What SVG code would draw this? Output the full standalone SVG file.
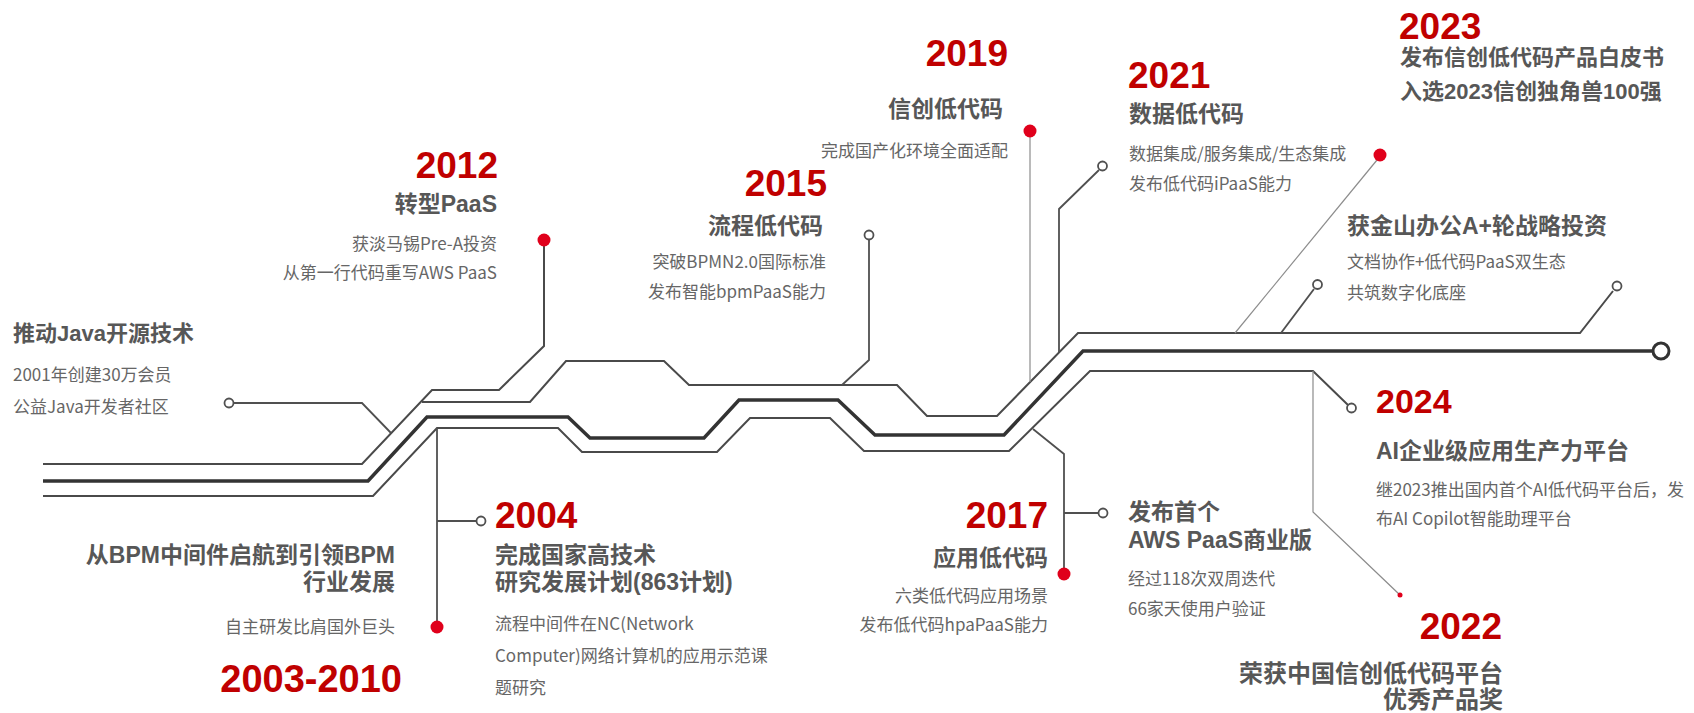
<svg xmlns="http://www.w3.org/2000/svg" width="1694" height="713" viewBox="0 0 1694 713">
<style>
text{font-family:"Noto Sans CJK SC","Liberation Sans",sans-serif}
.yr{font-family:"Liberation Sans","Noto Sans CJK SC",sans-serif;font-size:37px;font-weight:700;fill:#c00000}
.tt{font-family:"Liberation Sans","Noto Sans CJK SC",sans-serif;font-size:23px;font-weight:700;fill:#575757}
.bd{font-size:17px;fill:#666}
.r{text-anchor:end}
.trk{fill:none;stroke:#4a4a4a;stroke-width:2;stroke-linejoin:miter}
.main{fill:none;stroke:#333;stroke-width:3.5}
.con{fill:none;stroke:#505050;stroke-width:1.8}
.thin{fill:none;stroke:#8c8c8c;stroke-width:1.2}
.oc{fill:#fff;stroke:#505050;stroke-width:1.8}
.dot{fill:#e0001b}
</style>
<rect width="1694" height="713" fill="#fff"/>
<g id="connectors">
<path class="trk" d="M43,464 H362 L432,390 H499 L544,346 V240"/>
<path class="trk" d="M422,402 H530 L566,361 H664 L689,385 H897 L927,416 H997 L1078,333 H1580 L1613,291"/>
<path class="main" d="M43,481 H368 L427,417 H568 L590,438 H704 L739,400 H838 L875,435 H1004 L1083,351 H1653"/>
<path class="trk" d="M43,496 H373 L437,428 H558 L582,452 H717 L750,418 H830 L864,451 H1009 L1090,371 H1313 L1348,405"/>
<path class="con" d="M234,403 H362 L391,433"/>
<path class="con" d="M869,240 V360 L842,385"/>
<path class="con" d="M437,428 V621"/>
<path class="con" d="M437,521 H476"/>
<path class="thin" d="M1030,137 V382"/>
<path class="con" d="M1099,170 L1059,209 V352"/>
<path class="thin" d="M1377,160 L1235,333"/>
<path class="con" d="M1314,289 L1281,333"/>
<path class="thin" d="M1313,371 V512 L1400,595"/>
<path class="con" d="M1033,429 L1064,454 V568"/>
<path class="con" d="M1064,513 H1098"/>
<circle cx="1661" cy="351" r="8" fill="#fff" stroke="#333" stroke-width="3"/>
</g>
<g id="n-java">
<circle class="oc" cx="229" cy="403" r="4.5"/>
<text class="tt" x="13" y="341" style="font-size:22px">推动Java开源技术</text>
<text class="bd" x="13" y="381">2001年创建30万会员</text>
<text class="bd" x="13" y="413">公益Java开发者社区</text>
</g>
<g id="n-2003">
<circle class="dot" cx="437" cy="627" r="6.5"/>
<text class="tt r" x="395" y="563">从BPM中间件启航到引领BPM<tspan x="395" dy="27">行业发展</tspan></text>
<text class="bd r" x="395" y="633">自主研发比肩国外巨头</text>
<text class="yr r" x="402" y="692" style="font-size:38px">2003-2010</text>
</g>
<g id="n-2004">
<circle class="oc" cx="481" cy="521" r="4.5"/>
<text class="yr" x="495" y="528">2004</text>
<text class="tt" x="495" y="563">完成国家高技术<tspan x="495" dy="27">研究发展计划(863计划)</tspan></text>
<text class="bd" x="495" y="630">流程中间件在NC(Network</text>
<text class="bd" x="495" y="662">Computer)网络计算机的应用示范课</text>
<text class="bd" x="495" y="694">题研究</text>
</g>
<g id="n-2012">
<circle class="dot" cx="544" cy="240" r="6.5"/>
<text class="yr r" x="498" y="178">2012</text>
<text class="tt r" x="497" y="212">转型PaaS</text>
<text class="bd r" x="497" y="250">获淡马锡Pre-A投资</text>
<text class="bd r" x="497" y="279">从第一行代码重写AWS PaaS</text>
</g>
<g id="n-2015">
<circle class="oc" cx="869" cy="235" r="4.5"/>
<text class="yr r" x="827" y="196">2015</text>
<text class="tt r" x="823" y="234">流程低代码</text>
<text class="bd r" x="826" y="268">突破BPMN2.0国际标准</text>
<text class="bd r" x="826" y="298">发布智能bpmPaaS能力</text>
</g>
<g id="n-2017">
<circle class="dot" cx="1064" cy="574" r="6.5"/>
<text class="yr r" x="1048" y="528">2017</text>
<text class="tt r" x="1048" y="566">应用低代码</text>
<text class="bd r" x="1048" y="602">六类低代码应用场景</text>
<text class="bd r" x="1048" y="631">发布低代码hpaPaaS能力</text>
</g>
<g id="n-aws">
<circle class="oc" cx="1103" cy="513" r="4.5"/>
<text class="tt" x="1128" y="520">发布首个<tspan x="1128" dy="28">AWS PaaS商业版</tspan></text>
<text class="bd" x="1128" y="585">经过118次双周迭代</text>
<text class="bd" x="1128" y="615">66家天使用户验证</text>
</g>
<g id="n-2019">
<circle class="dot" cx="1030" cy="131" r="6.5"/>
<text class="yr r" x="1008" y="66">2019</text>
<text class="tt r" x="1003" y="117">信创低代码</text>
<text class="bd r" x="1008" y="157">完成国产化环境全面适配</text>
</g>
<g id="n-2021">
<circle class="oc" cx="1102.5" cy="166" r="4.5"/>
<text class="yr" x="1128" y="88">2021</text>
<text class="tt" x="1129" y="122">数据低代码</text>
<text class="bd" x="1129" y="160">数据集成/服务集成/生态集成</text>
<text class="bd" x="1129" y="190">发布低代码iPaaS能力</text>
</g>
<g id="n-2022">
<circle class="dot" cx="1400" cy="595" r="2.5"/>
<text class="yr r" x="1502" y="639">2022</text>
<text class="tt r" x="1503" y="682" style="font-size:24px">荣获中国信创低代码平台<tspan x="1503" dy="26">优秀产品奖</tspan></text>
</g>
<g id="n-2023">
<circle class="dot" cx="1380" cy="155" r="6.5"/>
<text class="yr" x="1399" y="39">2023</text>
<text class="tt" x="1400" y="65" style="font-size:22px">发布信创低代码产品白皮书<tspan x="1400" dy="34">入选2023信创独角兽100强</tspan></text>
</g>
<g id="n-kingsoft">
<circle class="oc" cx="1317.5" cy="284.5" r="4.5"/>
<circle class="oc" cx="1617" cy="286" r="4.5"/>
<text class="tt" x="1347" y="234">获金山办公A+轮战略投资</text>
<text class="bd" x="1347" y="268">文档协作+低代码PaaS双生态</text>
<text class="bd" x="1347" y="299">共筑数字化底座</text>
</g>
<g id="n-2024">
<circle class="oc" cx="1351.5" cy="408" r="4.5"/>
<text class="yr" x="1376" y="413" style="font-size:34px">2024</text>
<text class="tt" x="1376" y="459">AI企业级应用生产力平台</text>
<text class="bd" x="1376" y="496">继2023推出国内首个AI低代码平台后，发</text>
<text class="bd" x="1376" y="525">布AI Copilot智能助理平台</text>
</g>
</svg>
